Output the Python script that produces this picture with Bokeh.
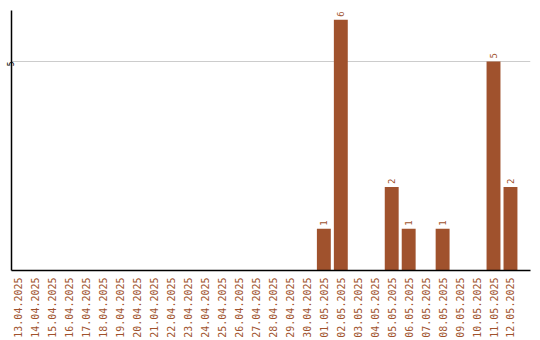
import math
import numpy as np
from bokeh.plotting import figure
from bokeh.models import ColumnDataSource, FixedTicker, Range1d
from bokeh.core.properties import value
from bokeh.embed import file_html
from bokeh.resources import INLINE

# Daily counts, 13.04.2025 - 12.05.2025
dates = [
    "13.04.2025", "14.04.2025", "15.04.2025", "16.04.2025", "17.04.2025",
    "18.04.2025", "19.04.2025", "20.04.2025", "21.04.2025", "22.04.2025",
    "23.04.2025", "24.04.2025", "25.04.2025", "26.04.2025", "27.04.2025",
    "28.04.2025", "29.04.2025", "30.04.2025", "01.05.2025", "02.05.2025",
    "03.05.2025", "04.05.2025", "05.05.2025", "06.05.2025", "07.05.2025",
    "08.05.2025", "09.05.2025", "10.05.2025", "11.05.2025", "12.05.2025",
]
counts = [0, 0, 0, 0, 0, 0, 0, 0, 0, 0,
          0, 0, 0, 0, 0, 0, 0, 0, 1, 6,
          0, 0, 2, 1, 0, 1, 0, 0, 5, 2]
y_ticks = [5]

BAR = "#A0522D"
FONT = "DejaVu Sans Mono"

idx = np.arange(len(dates))
src = ColumnDataSource(dict(x=idx, top=counts))
lbl_mask = [c > 0 for c in counts]
lbl = ColumnDataSource(dict(
    x=idx[lbl_mask],
    y=[c for c in counts if c > 0],
    t=[str(c) for c in counts if c > 0],
))

p = figure(width=540, height=340, output_backend="svg", toolbar_location=None,
           x_range=Range1d(-0.41, len(dates) + 0.18), y_range=Range1d(0, 6.22),
           min_border_left=10, min_border_right=10, min_border_top=10,
           min_border_bottom=70)
p.outline_line_color = None
p.background_fill_color = "white"

p.vbar(x="x", top="top", width=0.82, source=src, fill_color=BAR, line_color=None)

p.text(x="x", y="y", text="t", source=lbl, angle=math.pi / 2,
       text_align="left", text_baseline="middle", y_offset=-3,
       text_font=value(FONT), text_font_size="9px", text_color=BAR)

# x axis: one vertical label per day
p.xaxis.ticker = FixedTicker(ticks=list(idx))
p.xaxis.major_label_overrides = {int(i): d for i, d in zip(idx, dates)}
p.xaxis.major_label_orientation = math.pi / 2
p.xaxis.major_label_text_font = FONT
p.xaxis.major_label_text_font_size = "10px"
p.xaxis.major_label_text_color = BAR
p.xaxis.major_label_standoff = 7
p.xaxis.major_tick_out = 0
p.xaxis.major_tick_in = 0
p.xaxis.minor_tick_out = 0
p.xaxis.minor_tick_in = 0
p.xaxis.axis_line_color = "black"
p.xaxis.axis_line_width = 1.5

# y axis: a single tick with a grid line
p.yaxis.ticker = FixedTicker(ticks=y_ticks)
p.yaxis.major_label_orientation = math.pi / 2
p.yaxis.major_label_text_font = FONT
p.yaxis.major_label_text_font_size = "8px"
p.yaxis.major_label_text_color = "black"
p.yaxis.major_label_standoff = 1
p.yaxis.major_tick_out = 0
p.yaxis.major_tick_in = 0
p.yaxis.minor_tick_out = 0
p.yaxis.minor_tick_in = 0
p.yaxis.axis_line_color = "black"
p.yaxis.axis_line_width = 1.5

p.xgrid.grid_line_color = None
p.ygrid.ticker = FixedTicker(ticks=y_ticks)
p.ygrid.grid_line_color = "#cccccc"

open("out.html", "w").write(file_html(p, INLINE))
